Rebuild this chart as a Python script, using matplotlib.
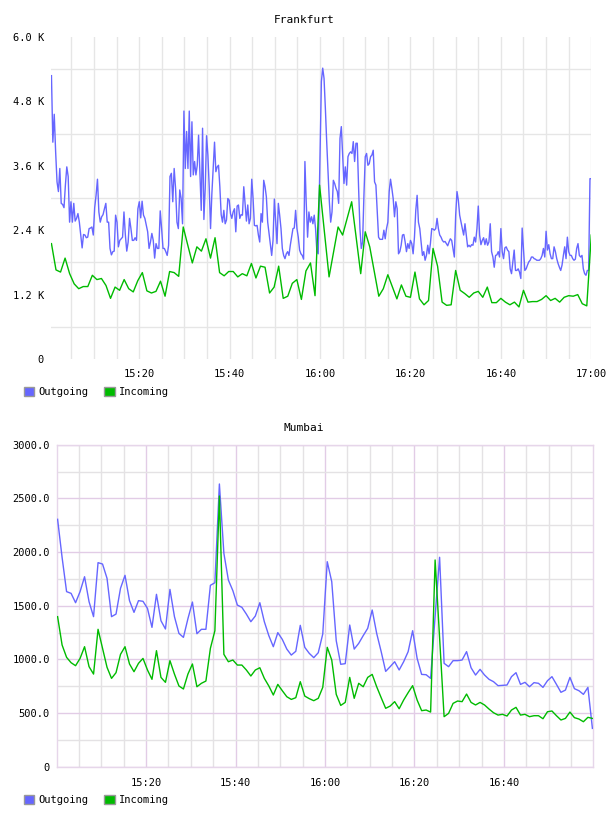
import numpy as np
import matplotlib
matplotlib.use('Agg')
import matplotlib.pyplot as plt
from matplotlib.patches import Patch
from matplotlib.ticker import FuncFormatter

# ---- Frankfurt (values in K, time in minutes after 15:00) ----
fra_out = [
    5.28, 4.04, 4.56, 3.86, 3.30, 3.12, 3.55, 2.90, 2.88, 2.82,
    3.24, 3.58, 3.40, 2.55, 2.93, 2.55, 2.90, 2.57, 2.62, 2.71,
    2.55, 2.31, 2.07, 2.32, 2.31, 2.26, 2.27, 2.43, 2.44, 2.46,
    2.31, 2.82, 3.05, 3.35, 2.74, 2.55, 2.65, 2.69, 2.80, 2.90,
    2.55, 2.55, 2.06, 1.94, 2.00, 2.01, 2.68, 2.55, 2.09, 2.21,
    2.24, 2.27, 2.74, 2.31, 2.01, 2.18, 2.62, 2.43, 2.21, 2.21,
    2.26, 2.21, 2.80, 2.93, 2.63, 2.94, 2.68, 2.62, 2.49, 2.37,
    2.06, 2.18, 2.34, 2.21, 1.88, 2.15, 2.06, 2.06, 2.76, 2.43,
    2.06, 2.06, 2.00, 1.93, 2.12, 3.40, 3.46, 2.93, 3.55, 3.18,
    2.55, 2.43, 3.15, 2.99, 2.52, 4.62, 3.55, 4.24, 3.55, 4.62,
    3.40, 4.42, 3.43, 3.68, 3.43, 3.61, 4.17, 3.49, 2.77, 4.30,
    2.60, 3.18, 4.16, 3.80, 3.21, 2.43, 3.08, 3.55, 4.04, 3.49,
    3.58, 3.61, 3.21, 2.69, 2.55, 2.77, 2.52, 2.59, 2.99, 2.96,
    2.71, 2.62, 2.74, 2.80, 2.37, 2.85, 2.87, 2.62, 2.69, 2.68,
    3.21, 2.90, 2.57, 2.87, 2.52, 2.62, 3.35, 2.99, 2.49, 2.48,
    2.49, 2.31, 2.18, 2.71, 2.55, 3.33, 3.21, 3.02, 2.55, 2.34,
    2.12, 1.93, 2.21, 2.98, 2.55, 2.15, 2.90, 2.68, 2.43, 2.06,
    1.93, 1.87, 1.96, 2.00, 1.93, 2.12, 2.27, 2.43, 2.44, 2.77,
    2.43, 2.27, 2.03, 1.96, 1.93, 1.86, 3.68, 2.90, 2.27, 2.74,
    2.55, 2.65, 2.52, 2.68, 2.43, 2.00, 1.96,
    # 16:00 onwards
    5.17, 5.42, 5.23, 4.67, 4.05, 3.49, 2.93, 2.55, 2.74, 3.33,
    3.27, 3.18, 3.12, 2.90, 4.11, 4.33, 3.80, 3.27, 3.58, 3.24,
    3.77, 3.83, 3.86, 3.83, 4.05, 3.68, 4.02, 4.02, 3.18, 2.43,
    2.06, 2.18, 3.05, 3.77, 3.83, 3.61, 3.64, 3.77, 3.80, 3.89,
    3.30, 3.24, 2.74, 2.27, 2.23, 2.23, 2.23, 2.40, 2.24, 2.43,
    2.55, 3.12, 3.35, 3.18, 2.99, 2.65, 2.93, 2.80, 1.96, 2.00,
    2.12, 2.31, 2.32, 2.18, 2.00, 2.15, 2.06, 2.21, 2.15, 1.96,
    2.27, 2.77, 3.05, 2.55, 2.43, 2.18, 1.93, 2.00, 1.84, 1.93,
    2.12, 1.96, 2.15, 2.43, 2.42, 2.40, 2.43, 2.62, 2.43, 2.31,
    2.27, 2.21, 2.18, 2.19, 2.15, 2.11, 2.18, 2.24, 2.21, 2.06,
    1.90, 2.68, 3.12, 2.96, 2.68, 2.55, 2.43, 2.31, 2.52, 2.31,
    2.09, 2.12, 2.09, 2.13, 2.12, 2.27, 2.18, 2.43, 2.85, 2.31,
    2.13, 2.21, 2.26, 2.13, 2.24, 2.12, 2.18, 2.52, 2.00, 1.90,
    1.71, 1.93, 1.94, 2.00, 1.90, 2.43, 2.00, 1.87, 2.07, 2.09,
    2.03, 2.00, 1.68, 1.59, 1.81, 2.03, 1.65, 1.65, 1.68, 1.62,
    1.50, 2.44, 2.06, 1.65, 1.68, 1.75, 1.81, 1.84, 1.90, 1.90,
    1.87, 1.86, 1.84, 1.84, 1.84, 1.87, 1.93, 2.06, 1.90, 2.38,
    2.03, 2.13, 1.96, 1.87, 1.87, 2.09, 2.00, 1.87, 1.78, 1.71,
    1.65, 1.75, 1.93, 2.09, 1.87, 2.27, 2.00, 1.93, 1.93, 1.87,
    1.84, 1.86, 2.06, 2.15, 1.93, 1.90, 1.93, 1.68, 1.59, 1.56,
    1.65, 1.65, 3.36, 3.36,
]
fra_out_t = np.r_[np.linspace(0.6, 29.9, 96), np.linspace(30.2, 59.6, 101),
                  np.linspace(60.3, 120.0, 204)]

fra_in = [
    2.15, 1.66, 1.62, 1.88, 1.59, 1.40, 1.31, 1.35, 1.35, 1.56,
    1.48, 1.50, 1.37, 1.13, 1.34, 1.28, 1.48, 1.31, 1.25, 1.46,
    1.61, 1.27, 1.23, 1.26, 1.45, 1.17, 1.63, 1.61, 1.54, 2.46,
    2.12, 1.79, 2.09, 2.01, 2.24, 1.88, 2.26, 1.61, 1.55, 1.63,
    1.63, 1.53, 1.59, 1.55, 1.78, 1.51, 1.73, 1.71, 1.23, 1.34,
    1.73, 1.13, 1.17, 1.41, 1.48, 1.11, 1.64, 1.79, 1.18, 3.24,
    1.53, 2.46, 2.31, 2.93, 1.59, 2.37, 2.09, 1.17, 1.31, 1.57,
    1.12, 1.38, 1.17, 1.15, 1.62, 1.12, 1.01, 1.09, 2.06, 1.73,
    1.06, 1.00, 1.01, 1.65, 1.28, 1.22, 1.15, 1.23, 1.26, 1.15,
    1.34, 1.05, 1.05, 1.13, 1.06, 1.01, 1.06, 0.97, 1.28, 1.06,
    1.07, 1.07, 1.11, 1.18, 1.09, 1.13, 1.06, 1.15, 1.18, 1.17,
    1.20, 1.03, 0.99, 2.31,
]
fra_in_t = np.r_[np.linspace(0.6, 59.9, 60),
                 [62, 64, 65, 67, 69, 70, 71, 73, 74, 75],
                 np.arange(77, 121)]

# ---- Mumbai (one sample per minute) ----
mum_out = [
    2305, 1950, 1631, 1615, 1528, 1631, 1770, 1537, 1398, 1901,
    1888, 1755, 1398, 1422, 1662, 1783, 1547, 1438, 1547, 1541,
    1475, 1298, 1606, 1360, 1283, 1652, 1398, 1242, 1205, 1379,
    1534, 1239, 1280, 1280, 1690, 1714, 2634, 1988, 1739, 1640,
    1506, 1485, 1422, 1351, 1404, 1528, 1351, 1221, 1118, 1249,
    1186, 1096, 1040, 1075, 1317, 1112, 1056, 1016, 1062, 1236,
    1910, 1724, 1174, 954, 960, 1320, 1096, 1149, 1221, 1289,
    1460, 1242, 1072, 888, 932, 978, 901, 978, 1072, 1267,
    1009, 860, 857, 823, 1400, 1951, 963, 932, 988, 988,
    994, 1072, 922, 854, 907, 854, 814, 792, 755, 758,
    761, 839, 876, 767, 786, 745, 783, 777, 739, 801,
    839, 767, 693, 714, 832, 727, 708, 674, 739, 357,
]
mum_in = [
    1398, 1134, 1019, 969, 941, 1009, 1118, 932, 863, 1280,
    1103, 926, 823, 876, 1047, 1118, 957, 885, 963, 1009,
    901, 814, 1081, 832, 786, 988, 863, 752, 724, 863,
    957, 745, 777, 798, 1103, 1267, 2522, 1047, 978, 994,
    947, 947, 901, 845, 901, 922, 823, 752, 668, 767,
    708, 652, 627, 643, 792, 658, 634, 615, 637, 739,
    1112, 994, 674, 571, 599, 832, 637, 777, 745, 832,
    860, 745, 643, 544, 565, 606, 540, 621, 690, 755,
    621, 522, 528, 509, 1926, 1200, 466, 497, 590, 612,
    606, 677, 599, 575, 599, 575, 537, 503, 481, 488,
    472, 528, 553, 481, 488, 466, 475, 475, 447, 512,
    519, 475, 435, 450, 509, 457, 444, 419, 460, 450,
]
mum_t = np.linspace(0.2, 119.8, len(mum_out))

BLUE = '#6666ff'
GREEN = '#00bb00'
MONO = 'DejaVu Sans Mono'
plt.rcParams['font.family'] = MONO
plt.rcParams['font.size'] = 7.5


def hhmm(m, pos=None):
    m = int(round(m))
    return '%d:%02d' % (15 + m // 60, m % 60)


W, H = 608.0, 816.0
fig = plt.figure(figsize=(W / 100, H / 100), dpi=100)

# ---------------- Frankfurt ----------------
ax1 = fig.add_axes([51 / W, 1 - 359 / H, 540.3 / W, 322 / H])
ax1.plot(fra_out_t, fra_out, color=BLUE, lw=1.0, zorder=3)
ax1.plot(fra_in_t, fra_in, color=GREEN, lw=1.0, zorder=3)
ax1.set_xlim(0.5, 120)
ax1.set_ylim(0, 6.0)
ax1.set_xticks(np.arange(20, 121, 20))
ax1.set_xticks(np.arange(5, 121, 5), minor=True)
ax1.xaxis.set_major_formatter(FuncFormatter(hhmm))
ax1.set_yticks(np.arange(0, 6.01, 1.2))
ax1.set_yticks([0.6, 1.8, 3.0, 4.2, 5.4], minor=True)
ax1.yaxis.set_major_formatter(FuncFormatter(lambda v, p: '0' if v == 0 else '%.1f K' % v))
ax1.grid(True, axis='x', which='both', color='#e6e6e6', lw=1.0)
ax1.grid(True, axis='y', which='minor', color='#e6e6e6', lw=1.0)
ax1.grid(False, axis='y', which='major')
for s in ax1.spines.values():
    s.set_visible(False)
ax1.tick_params(axis='both', which='both', length=0)
ax1.tick_params(axis='x', pad=7)
ax1.tick_params(axis='y', pad=5)
ax1.set_axisbelow(True)
fig.text(0.5, 1 - 20 / H, 'Frankfurt', ha='center', va='center', fontsize=8)

# ---------------- Mumbai ----------------
ax2 = fig.add_axes([56.7 / W, 1 - 766.7 / H, 536.6 / W, 322 / H])
ax2.plot(mum_t, mum_out, color=BLUE, lw=1.0, zorder=3)
ax2.plot(mum_t, mum_in, color=GREEN, lw=1.0, zorder=3)
ax2.set_xlim(0, 120)
ax2.set_ylim(0, 3000)
ax2.set_xticks(np.arange(20, 101, 20))
ax2.set_xticks(np.arange(5, 120, 5), minor=True)
ax2.xaxis.set_major_formatter(FuncFormatter(hhmm))
ax2.set_yticks(np.arange(0, 3001, 500))
ax2.set_yticks(np.arange(250, 3000, 500), minor=True)
ax2.yaxis.set_major_formatter(FuncFormatter(lambda v, p: '0' if v == 0 else '%.1f' % v))
ax2.grid(True, which='minor', color='#e4e2e4', lw=1.0)
ax2.grid(True, which='major', color='#e2cce6', lw=1.0)
for s in ax2.spines.values():
    s.set_color('#e6d6ea')
    s.set_linewidth(1.0)
ax2.tick_params(axis='both', which='both', length=0)
ax2.tick_params(axis='x', pad=8)
ax2.tick_params(axis='y', pad=5)
ax2.set_axisbelow(True)
fig.text(0.5, 1 - 428 / H, 'Mumbai', ha='center', va='center', fontsize=8)

# ---------------- legends ----------------
handles = [Patch(facecolor=BLUE, edgecolor='#999999', lw=1.0, label='Outgoing'),
           Patch(facecolor=GREEN, edgecolor='#999999', lw=1.0, label='Incoming')]
for yc in (392, 800):
    fig.legend(handles=handles, loc='center left', bbox_to_anchor=(23.5 / W, 1 - yc / H),
               bbox_transform=fig.transFigure, ncol=2, frameon=False,
               handlelength=1.05, handleheight=1.05, handletextpad=0.4,
               columnspacing=1.5, borderpad=0, borderaxespad=0, fontsize=7.5)

fig.savefig('out.png', dpi=100)
